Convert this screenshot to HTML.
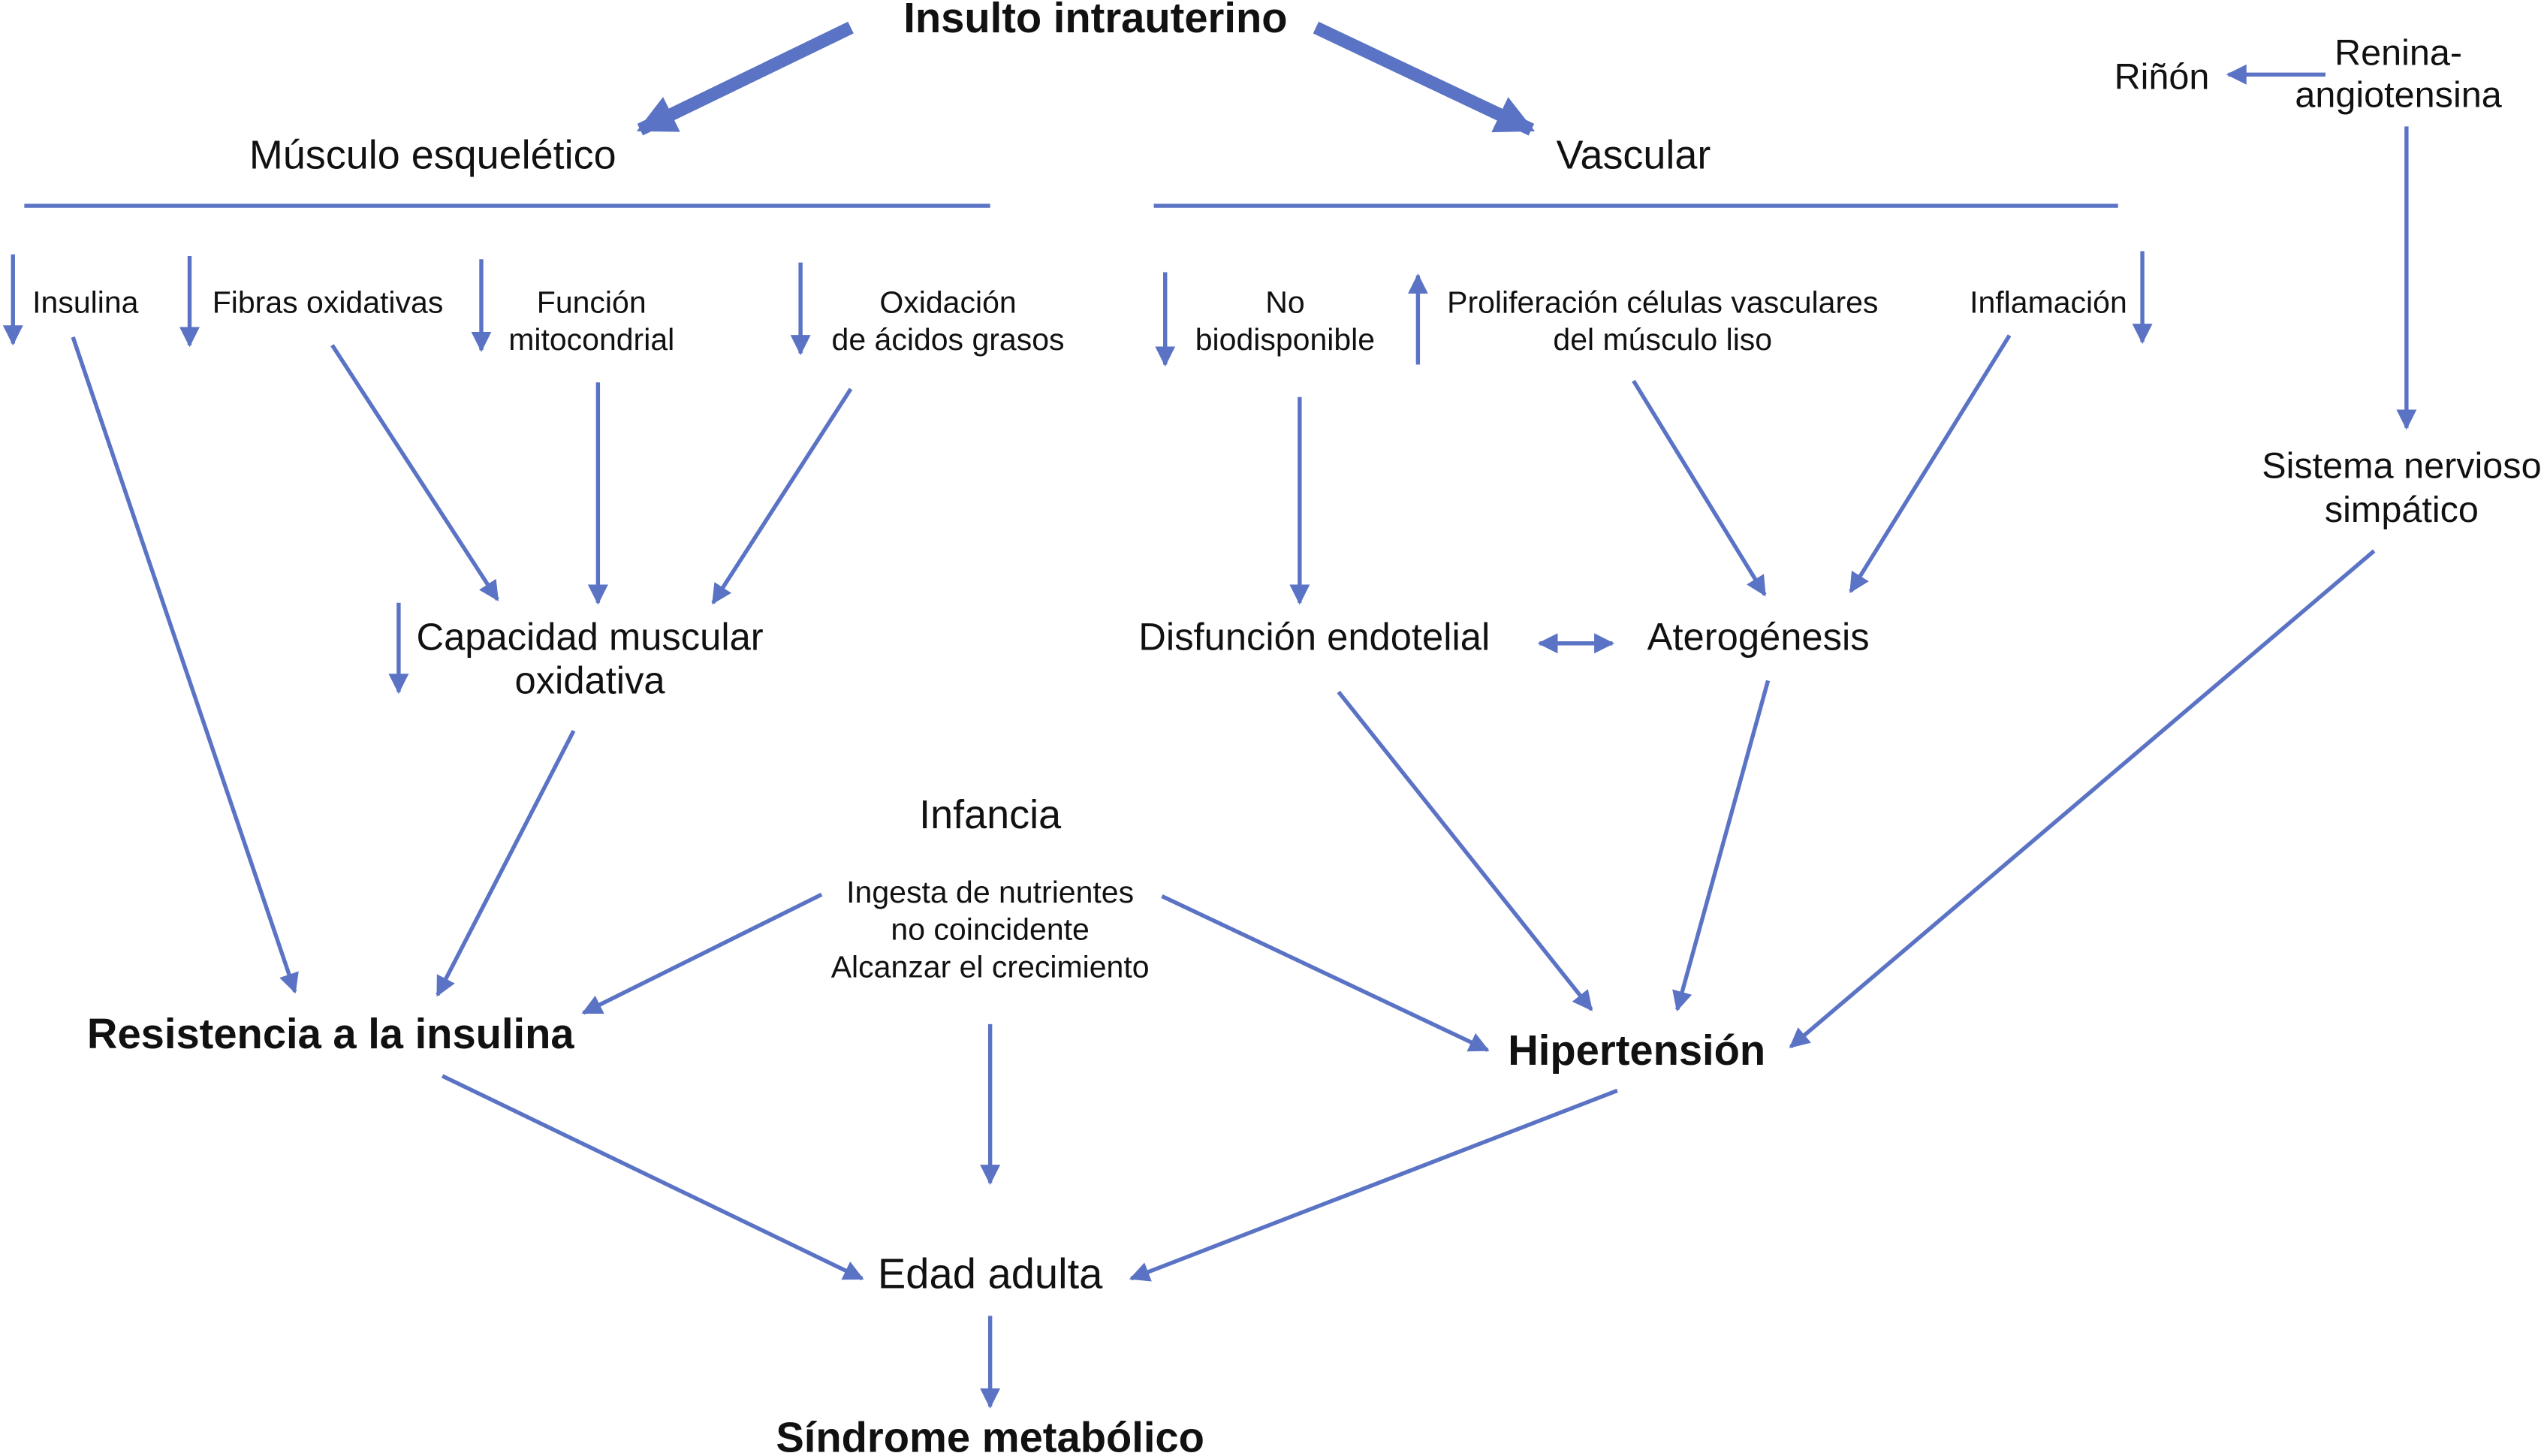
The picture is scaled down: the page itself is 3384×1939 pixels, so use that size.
<!DOCTYPE html>
<html><head><meta charset="utf-8"><style>
html,body{margin:0;padding:0;background:#fff;}
svg{display:block;}
text{font-family:"Liberation Sans",Arial,sans-serif;fill:#111;}
</style></head><body>
<svg width="3384" height="1939" viewBox="0 0 1568 898.5" preserveAspectRatio="none" xmlns="http://www.w3.org/2000/svg">
<defs>
<marker id="a" viewBox="0 0 10 10" refX="9" refY="5" markerWidth="5" markerHeight="5" orient="auto-start-reverse" markerUnits="strokeWidth"><path d="M0,0 L10,5 L0,10 z" fill="#5b73c4"/></marker>
<marker id="b" viewBox="0 0 10 10" refX="9" refY="5" markerWidth="3" markerHeight="3" orient="auto" markerUnits="strokeWidth"><path d="M0,0 L10,5 L0,10 z" fill="#5b73c4"/></marker>
</defs>
<g stroke="#5b73c4" fill="none">
<line x1="525" y1="17" x2="395" y2="80" stroke-width="8" marker-end="url(#b)"/>
<line x1="812" y1="17" x2="945" y2="80" stroke-width="8" marker-end="url(#b)"/>
<line x1="15" y1="127" x2="611" y2="127" stroke-width="2.5"/>
<line x1="712" y1="127" x2="1307" y2="127" stroke-width="2.5"/>
<g stroke-width="2.5" marker-end="url(#a)">
<line x1="8" y1="157" x2="8" y2="212"/>
<line x1="117" y1="158" x2="117" y2="213"/>
<line x1="297" y1="160" x2="297" y2="216"/>
<line x1="494" y1="162" x2="494" y2="218"/>
<line x1="719" y1="168" x2="719" y2="225"/>
<line x1="875" y1="225" x2="875" y2="170"/>
<line x1="1322" y1="155" x2="1322" y2="211"/>
<line x1="246" y1="372" x2="246" y2="427"/>
<line x1="45" y1="208" x2="182" y2="612"/>
<line x1="205" y1="213" x2="307" y2="370"/>
<line x1="369" y1="236" x2="369" y2="372"/>
<line x1="525" y1="240" x2="440" y2="372"/>
<line x1="354" y1="451" x2="270" y2="614"/>
<line x1="507" y1="552" x2="360" y2="625"/>
<line x1="717" y1="553" x2="918" y2="648"/>
<line x1="611" y1="632" x2="611" y2="730"/>
<line x1="273" y1="664" x2="532" y2="789"/>
<line x1="998" y1="673" x2="698" y2="789"/>
<line x1="611" y1="812" x2="611" y2="868"/>
<line x1="802" y1="245" x2="802" y2="372"/>
<line x1="1008" y1="235" x2="1089" y2="367"/>
<line x1="1240" y1="207" x2="1142" y2="365"/>
<line x1="826" y1="427" x2="982" y2="623"/>
<line x1="1091" y1="420" x2="1035" y2="623"/>
<line x1="1465" y1="340" x2="1105" y2="646"/>
<line x1="1485" y1="78" x2="1485" y2="264"/>
<line x1="1435" y1="46" x2="1375" y2="46"/>
<line x1="950" y1="397" x2="995" y2="397" marker-start="url(#a)"/>
</g>
</g>
<g text-anchor="middle">
<text x="676" y="20" font-size="26" font-weight="bold">Insulto intrauterino</text>
<text x="267" y="104" font-size="25">Músculo esquelético</text>
<text x="1008" y="104" font-size="25">Vascular</text>
<text x="1334" y="55" font-size="22.5">Riñón</text>
<text x="1480" y="40" font-size="22.5">Renina-</text>
<text x="1480" y="66" font-size="22.5">angiotensina</text>
<text x="365" y="193" font-size="19">Función</text>
<text x="365" y="216" font-size="19">mitocondrial</text>
<text x="585" y="193" font-size="19">Oxidación</text>
<text x="585" y="216" font-size="19">de ácidos grasos</text>
<text x="793" y="193" font-size="19">No</text>
<text x="793" y="216" font-size="19">biodisponible</text>
<text x="1026" y="193" font-size="19">Proliferación células vasculares</text>
<text x="1026" y="216" font-size="19">del músculo liso</text>
<text x="1264" y="193" font-size="19">Inflamación</text>
<text x="1482" y="295" font-size="22.5">Sistema nervioso</text>
<text x="1482" y="322" font-size="22.5">simpático</text>
<text x="364" y="401" font-size="23.5">Capacidad muscular</text>
<text x="364" y="428" font-size="23.5">oxidativa</text>
<text x="811" y="401" font-size="23.5">Disfunción endotelial</text>
<text x="1085" y="401" font-size="23.5">Aterogénesis</text>
<text x="611" y="511" font-size="25">Infancia</text>
<text x="611" y="557" font-size="19">Ingesta de nutrientes</text>
<text x="611" y="580" font-size="19">no coincidente</text>
<text x="611" y="603" font-size="19">Alcanzar el crecimiento</text>
<text x="204" y="647" font-size="26" font-weight="bold">Resistencia a la insulina</text>
<text x="1010" y="657" font-size="26" font-weight="bold">Hipertensión</text>
<text x="611" y="795" font-size="26">Edad adulta</text>
<text x="611" y="896" font-size="26" font-weight="bold">Síndrome metabólico</text>
</g>
<text x="20" y="193" font-size="19">Insulina</text>
<text x="131" y="193" font-size="19">Fibras oxidativas</text>
</svg>
</body></html>
